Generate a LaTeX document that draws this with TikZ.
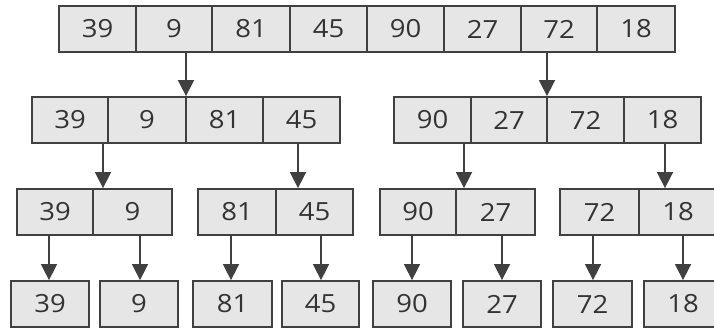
\documentclass[tikz,border=0pt]{standalone}
\usepackage{fontspec}
\setmainfont{Open Sans}
\usetikzlibrary{arrows.meta}
\definecolor{cellfill}{HTML}{E6E6E6}
\definecolor{cellline}{HTML}{404040}
\definecolor{celltext}{HTML}{333333}
\tikzset{
  cell/.style={draw=cellline, fill=cellfill, line width=1.8pt, inner sep=0pt,
    minimum height=46pt, text=celltext, font=\fontsize{25}{25}\selectfont},
  arr/.style={draw=cellline, line width=1.6pt, -{Triangle[length=16pt,width=16pt]}}
}
\newcommand\mycell[5]{\node[cell, minimum width={#3-#2}] (#1) at ({(#2+#3)/2},#4) {\scalebox{1.1}[1]{#5}};}
\begin{document}
\begin{tikzpicture}[x=1pt,y=-1pt]
\useasboundingbox (0,0) rectangle (714,329);
\fill[white] (0,0) rectangle (714,329);
\clip (0,0) rectangle (714,329);
% Row 1
\mycell{a1}{59}{136}{29}{39}
\mycell{a2}{136}{212}{29}{9}
\mycell{a3}{212}{290}{29}{81}
\mycell{a4}{290}{367}{29}{45}
\mycell{a5}{367}{444}{29}{90}
\mycell{a6}{444}{521}{29}{27}
\mycell{a7}{521}{597}{29}{72}
\mycell{a8}{597}{675}{29}{18}
% Row 2
\mycell{b1}{32}{108}{120}{39}
\mycell{b2}{108}{186}{120}{9}
\mycell{b3}{186}{263}{120}{81}
\mycell{b4}{263}{340}{120}{45}
\mycell{b5}{394}{471}{120}{90}
\mycell{b6}{471}{547}{120}{27}
\mycell{b7}{547}{624}{120}{72}
\mycell{b8}{624}{701}{120}{18}
% Row 3
\mycell{c1}{17}{93}{212}{39}
\mycell{c2}{93}{172}{212}{9}
\mycell{c3}{198}{276}{212}{81}
\mycell{c4}{276}{353}{212}{45}
\mycell{c5}{380}{456}{212}{90}
\mycell{c6}{456}{535}{212}{27}
\mycell{c7}{560}{639}{212}{72}
\mycell{c8}{639}{717}{212}{18}
% Row 4
\mycell{d1}{11}{89}{304}{39}
\mycell{d2}{100}{178}{304}{9}
\mycell{d3}{193}{272}{304}{81}
\mycell{d4}{282}{359}{304}{45}
\mycell{d5}{373}{451}{304}{90}
\mycell{d6}{463}{541}{304}{27}
\mycell{d7}{553}{632}{304}{72}
\mycell{d8}{644}{722}{304}{18}
% arrow x positions
\coordinate (x1) at (186,0);
\coordinate (x2) at (547,0);
\coordinate (y1) at (103,0);
\coordinate (y2) at (298,0);
\coordinate (y3) at (464,0);
\coordinate (y4) at (665,0);
\coordinate (z1) at (49,0);
\coordinate (z2) at (140,0);
\coordinate (z3) at (231,0);
\coordinate (z4) at (321,0);
\coordinate (z5) at (412,0);
\coordinate (z6) at (502,0);
\coordinate (z7) at (593,0);
\coordinate (z8) at (683,0);
% Arrows
\draw[arr] (a2.south -| x1) -- (b3.north -| x1);
\draw[arr] (a7.south -| x2) -- (b7.north -| x2);
\draw[arr] (b1.south -| y1) -- (c2.north -| y1);
\draw[arr] (b4.south -| y2) -- (c4.north -| y2);
\draw[arr] (b5.south -| y3) -- (c6.north -| y3);
\draw[arr] (b8.south -| y4) -- (c8.north -| y4);
\draw[arr] (c1.south -| z1) -- (d1.north -| z1);
\draw[arr] (c2.south -| z2) -- (d2.north -| z2);
\draw[arr] (c3.south -| z3) -- (d3.north -| z3);
\draw[arr] (c4.south -| z4) -- (d4.north -| z4);
\draw[arr] (c5.south -| z5) -- (d5.north -| z5);
\draw[arr] (c6.south -| z6) -- (d6.north -| z6);
\draw[arr] (c7.south -| z7) -- (d7.north -| z7);
\draw[arr] (c8.south -| z8) -- (d8.north -| z8);
\end{tikzpicture}
\end{document}
